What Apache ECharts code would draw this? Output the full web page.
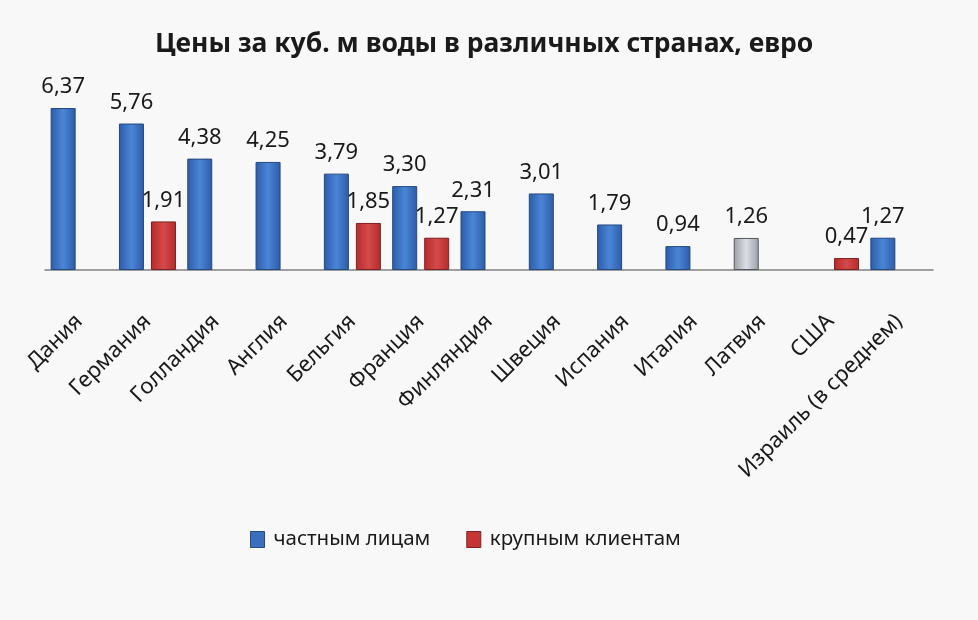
<!DOCTYPE html>
<html>
<head>
<meta charset="utf-8">
<script src="https://cdn.jsdelivr.net/npm/echarts@6/dist/echarts.min.js"></script>
<style>html,body{margin:0;padding:0;background:#f8f8f8;}#c{width:978px;height:620px;}</style>
</head>
<body>
<div id="c"></div>
<script>
const categories = ['Дания','Германия','Голландия','Англия','Бельгия','Франция','Финляндия','Швеция','Испания','Италия','Латвия','США','Израиль (в среднем)'];
const privateValues = [6.37,5.76,4.38,4.25,3.79,3.30,2.31,3.01,1.79,0.94,1.26,null,1.27];
const largeValues = [null,1.91,null,null,1.85,1.27,null,null,null,null,null,0.47,null];
const seriesNames = ['частным лицам','крупным клиентам'];
const grayIndex = 10;

function grad(dark, light) {
  return new echarts.graphic.LinearGradient(0,0,1,0,[
    {offset:0,color:dark},{offset:0.5,color:light},{offset:1,color:dark}
  ]);
}
const blue = grad('#2d5ba8','#4a86d6');
const red = grad('#b52a2a','#d44a4a');
const gray = grad('#9a9ea6','#dcdfe4');

const fmt = p => p.value == null ? '' : p.value.toFixed(2).replace('.', ',');
const labelCfg = {show:true, position:'top', distance:10, formatter:fmt, color:'#1a1a1a', fontSize:22, fontFamily:'Noto Sans'};

const chart = echarts.init(document.getElementById('c'));
chart.setOption({
  backgroundColor:'#f8f8f8',
  animation:false,
  title:{text:'Цены за куб. м воды в различных странах, евро', left:150, top:26,
    textStyle:{fontSize:26.5, fontWeight:'bold', fontFamily:'Noto Sans', color:'#1a1a1a'}},
  legend:{left:245, top:524, itemWidth:14, itemHeight:16, itemGap:36, icon:'rect',
    textStyle:{fontSize:20.5, fontFamily:'Noto Sans', color:'#1a1a1a', padding:[0,0,0,4]},
    data:[{name:seriesNames[0], itemStyle:{color:'#3a6fc0', borderColor:'#24497f', borderWidth:1}},
          {name:seriesNames[1], itemStyle:{color:'#c63434', borderColor:'#7f2020', borderWidth:1}}]},
  grid:{left:45, right:45, top:92, height:178},
  xAxis:{type:'category', data:categories,
    axisLine:{lineStyle:{color:'#808080', width:1.5}}, axisTick:{show:false},
    axisLabel:{rotate:45, interval:0, margin:48, fontSize:22, fontFamily:'Noto Sans', color:'#1a1a1a'}},
  yAxis:{type:'value', min:0, max:7, show:false, splitLine:{show:false}},
  series:[
    {name:seriesNames[0], type:'bar', barWidth:25, barGap:'28%',
      data:privateValues.map((v,i)=>({value:v, itemStyle:{color: i===grayIndex?gray:blue, borderColor: i===grayIndex?'#55585e':'#24497f', borderWidth:1}})),
      label:labelCfg},
    {name:seriesNames[1], type:'bar', barWidth:25,
      data:largeValues.map(v=>({value:v, itemStyle:{color:red, borderColor:'#7f2020', borderWidth:1}})),
      label:labelCfg}
  ]
});
</script>
</body>
</html>
